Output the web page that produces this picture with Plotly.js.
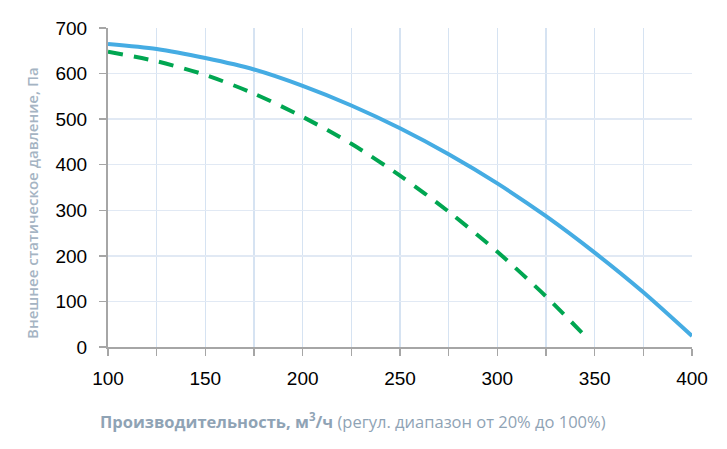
<!DOCTYPE html>
<html>
<head>
<meta charset="utf-8">
<script src="https://cdn.plot.ly/plotly-3.0.1.min.js"></script>
<style>
  html, body { margin: 0; padding: 0; background: #fff; }
  #plot { width: 727px; height: 449px; }
</style>
</head>
<body>
<div id="plot"></div>
<script>
// airflow, m3/h
var flow = [100, 125, 150, 175, 200, 225, 250, 275, 300, 325, 350, 375, 400];
// external static pressure, Pa - max speed (solid)
var pressureMax = [665, 654, 634, 609, 573, 530, 480, 423, 359, 287, 207, 120, 24];

// reduced mode (dashed)
var flowLow = [100, 125, 150, 175, 200, 225, 250, 275, 300, 325, 346];
var pressureLow = [648, 627, 597, 556, 505, 446, 376, 297, 209, 111, 20];

var xTitle = '<b>Производительность, м<sup>3</sup>/ч</b> (регул. диапазон от 20% до 100%)';
var yTitle = 'Внешнее статическое давление, Па';

var tickFont = {family: 'Liberation Sans, Arial, sans-serif', size: 19, color: '#000'};

var solid = {
  x: flow,
  y: pressureMax,
  type: 'scatter',
  mode: 'lines',
  line: {color: '#45ace3', width: 4, shape: 'spline', smoothing: 0.8},
  hoverinfo: 'skip'
};

var dashed = {
  x: flowLow,
  y: pressureLow,
  type: 'scatter',
  mode: 'lines',
  line: {color: '#00a651', width: 4, dash: '15px,11px', shape: 'spline', smoothing: 0.8},
  hoverinfo: 'skip'
};

var layout = {
  width: 727,
  height: 449,
  margin: {l: 108, r: 35, t: 28, b: 102},
  paper_bgcolor: '#fff',
  plot_bgcolor: '#fff',
  showlegend: false,
  xaxis: {
    range: [100, 400],
    tickmode: 'linear',
    tick0: 100,
    dtick: 50,
    ticks: 'outside',
    ticklen: 7,
    tickwidth: 1.5,
    tickcolor: '#a6a6a6',
    ticklabelstandoff: 6,
    showline: true,
    linecolor: '#a6a6a6',
    linewidth: 2,
    showgrid: true,
    gridcolor: '#d6e3f2',
    gridwidth: 1.3,
    zeroline: false,
    tickfont: tickFont,
    minor: {dtick: 25, tick0: 100, ticks: 'outside', ticklen: 7, tickwidth: 1.5, tickcolor: '#a6a6a6', showgrid: true, gridcolor: '#d6e3f2', gridwidth: 1.3}
  },
  yaxis: {
    range: [0, 700],
    tickmode: 'linear',
    tick0: 0,
    dtick: 100,
    ticks: 'outside',
    ticklen: 7,
    tickwidth: 1.5,
    tickcolor: '#a6a6a6',
    ticklabelstandoff: 8,
    showline: true,
    linecolor: '#a6a6a6',
    linewidth: 2,
    showgrid: true,
    gridcolor: '#e1e9f4',
    gridwidth: 1.3,
    zeroline: false,
    tickfont: tickFont
  },
  annotations: [
    {
      text: xTitle,
      xref: 'paper', yref: 'paper',
      x: -0.017, y: -0.232,
      xanchor: 'left', yanchor: 'middle',
      showarrow: false,
      font: {family: 'Open Sans, sans-serif', size: 16.5, color: '#8fa3b5'}
    },
    {
      text: yTitle,
      xref: 'paper', yref: 'paper',
      x: -0.130, y: 0.452,
      xanchor: 'center', yanchor: 'middle',
      textangle: -90,
      showarrow: false,
      font: {family: 'Open Sans, sans-serif', size: 15, weight: 600, color: '#a5b4c3'}
    }
  ]
};

Plotly.newPlot('plot', [solid, dashed], layout, {displayModeBar: false, staticPlot: true});
</script>
</body>
</html>
